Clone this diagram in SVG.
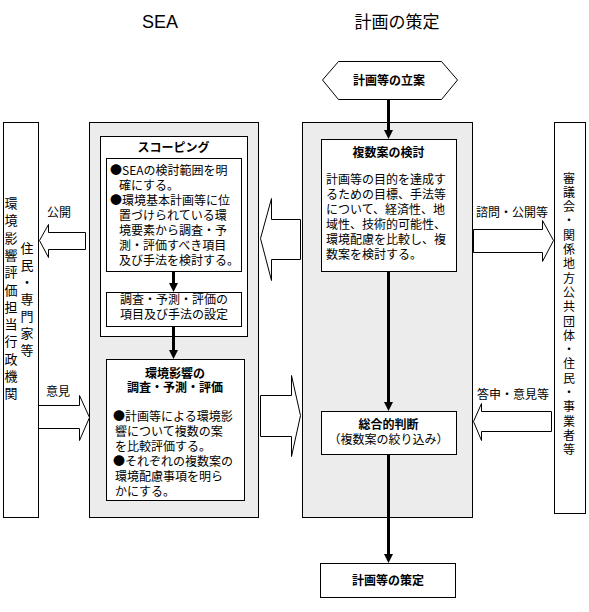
<svg xmlns="http://www.w3.org/2000/svg" width="589" height="612" viewBox="0 0 589 612">
<style>
  .t{font-family:"Noto Sans CJK JP","Liberation Sans",sans-serif;font-size:12px;fill:#000}
  .b{font-weight:bold}
  .m{text-anchor:middle}
  .v{font-family:"Noto Sans CJK JP","Liberation Sans",sans-serif;font-size:13px;fill:#000;text-anchor:middle}
  .vs{font-size:12px}
  .box{fill:#fff;stroke:#000;stroke-width:1}
  .grey{fill:#ececec;stroke:#000;stroke-width:1}
  .blk{fill:#fff;stroke:#000;stroke-width:1;stroke-linejoin:miter}
  .ln{stroke:#000;stroke-width:3;fill:none}
  .hd{fill:#000}
</style>
<rect width="589" height="612" fill="#fff"/>

<text x="160" y="28" font-family="Liberation Sans,Arial,sans-serif" font-size="18" text-anchor="middle">SEA</text>
<text x="397" y="28" class="t m" style="font-size:17px">計画の策定</text>

<g id="grey-sea"><rect class="grey" x="89.5" y="122.5" width="169" height="395"/></g>
<g id="grey-plan"><rect class="grey" x="302.5" y="122.5" width="170" height="395"/></g>

<g id="connectors">
  <path class="blk" d="M85.5,232.5 H48.5 V224.5 L39.5,240.5 L48.5,257.5 V249.5 H85.5 Z"/>
  <path class="blk" d="M38.5,405.5 H79.5 V395.5 L89.5,417.5 L79.5,440.5 V428.5 H38.5 Z"/>
  <path class="blk" d="M300.5,219.5 H271.5 V198.5 L260.5,238.5 L271.5,280.5 V259.5 H300.5 Z"/>
  <path class="blk" d="M260.5,395.5 H291.5 V375.5 L300.5,415.5 L291.5,456.5 V436.5 H260.5 Z"/>
  <path class="blk" d="M473.5,229.5 H542.5 V220.5 L553.5,240.5 L542.5,261.5 V252.5 H473.5 Z"/>
  <path class="blk" d="M551.5,411.5 H481.5 V403.5 L473.5,421.5 L481.5,440.5 V431.5 H551.5 Z"/>
  <line class="ln" x1="388.5" y1="99" x2="388.5" y2="131"/>
  <polygon class="hd" points="384,130 393,130 388.5,139"/>
  <line class="ln" x1="388.5" y1="271" x2="388.5" y2="403"/>
  <polygon class="hd" points="384,402 393,402 388.5,411"/>
  <line class="ln" x1="388.5" y1="454" x2="388.5" y2="555"/>
  <polygon class="hd" points="384,554 393,554 388.5,563"/>
</g>

<g id="left-box">
  <rect class="box" x="3.5" y="122.5" width="35" height="395"/>
  <text class="v"><tspan x="11" y="208">環</tspan><tspan x="11" y="225.3">境</tspan><tspan x="11" y="242.6">影</tspan><tspan x="11" y="259.9">響</tspan><tspan x="11" y="277.2">評</tspan><tspan x="11" y="294.5">価</tspan><tspan x="11" y="311.8">担</tspan><tspan x="11" y="329.1">当</tspan><tspan x="11" y="346.4">行</tspan><tspan x="11" y="363.7">政</tspan><tspan x="11" y="381">機</tspan><tspan x="11" y="398.3">関</tspan></text>
  <text class="v"><tspan x="27" y="253">住</tspan><tspan x="27" y="270">民</tspan><tspan x="27" y="287">・</tspan><tspan x="27" y="304">専</tspan><tspan x="27" y="321">門</tspan><tspan x="27" y="338">家</tspan><tspan x="27" y="355">等</tspan></text>
</g>

<g id="right-box">
  <rect class="box" x="554.5" y="122.5" width="31" height="391"/>
  <text class="v vs"><tspan x="569" y="182.5">審</tspan><tspan x="569" y="196.8">議</tspan><tspan x="569" y="211.1">会</tspan><tspan x="569" y="225.4">・</tspan><tspan x="569" y="239.7">関</tspan><tspan x="569" y="254">係</tspan><tspan x="569" y="268.3">地</tspan><tspan x="569" y="282.6">方</tspan><tspan x="569" y="296.9">公</tspan><tspan x="569" y="311.2">共</tspan><tspan x="569" y="325.5">団</tspan><tspan x="569" y="339.8">体</tspan><tspan x="569" y="354.1">・</tspan><tspan x="569" y="368.4">住</tspan><tspan x="569" y="382.7">民</tspan><tspan x="569" y="397">・</tspan><tspan x="569" y="411.3">事</tspan><tspan x="569" y="425.6">業</tspan><tspan x="569" y="439.9">者</tspan><tspan x="569" y="454.2">等</tspan></text>
</g>

<g id="labels">
  <text class="t m" x="59" y="217">公開</text>
  <text class="t m" x="58" y="396">意見</text>
  <text class="t m" x="512" y="217">諮問・公開等</text>
  <text class="t m" x="513" y="399">答申・意見等</text>
</g>

<g id="hex-start">
  <polygon class="box" points="322.5,80 338.5,61.5 441.5,61.5 457.5,80 441.5,99.5 338.5,99.5"/>
  <text class="t b m" x="389" y="84.5">計画等の立案</text>
</g>

<g id="scoping">
  <rect class="box" x="100.5" y="136.5" width="147" height="200"/>
  <text class="t b m" x="173.5" y="151.5">スコーピング</text>
</g>
<g id="scoping-text">
  <rect class="box" x="106.5" y="158.5" width="135" height="113"/>
  <text class="t" x="110" y="174.5">●SEAの検討範囲を明</text>
  <text class="t" x="119" y="189.5">確にする。</text>
  <text class="t" x="110" y="204.5">●環境基本計画等に位</text>
  <text class="t" x="119" y="219.5">置づけられている環</text>
  <text class="t" x="119" y="234.5">境要素から調査・予</text>
  <text class="t" x="119" y="249.5">測・評価すべき項目</text>
  <text class="t" x="119" y="264.5">及び手法を検討する。</text>
</g>
<g id="scoping-connectors">
  <line class="ln" x1="173.5" y1="271" x2="173.5" y2="284"/>
  <polygon class="hd" points="169,283 178,283 173.5,292"/>
  <line class="ln" x1="173.5" y1="326" x2="173.5" y2="351"/>
  <polygon class="hd" points="169,350 178,350 173.5,359"/>
</g>
<g id="scoping-setting">
  <rect class="box" x="106.5" y="292.5" width="135" height="34"/>
  <text class="t m" x="174" y="303.5">調査・予測・評価の</text>
  <text class="t m" x="174" y="318.5">項目及び手法の設定</text>
</g>

<g id="impact">
  <rect class="box" x="106.5" y="359.5" width="138" height="141"/>
  <text class="t b m" x="175" y="377.5">環境影響の</text>
  <text class="t b m" x="175" y="391.5">調査・予測・評価</text>
  <text class="t" x="113" y="420.5">●計画等による環境影</text>
  <text class="t" x="115" y="435.5">響について複数の案</text>
  <text class="t" x="115" y="450.5">を比較評価する。</text>
  <text class="t" x="113" y="465.5">●それぞれの複数案の</text>
  <text class="t" x="115" y="480.5">環境配慮事項を明ら</text>
  <text class="t" x="115" y="495.5">かにする。</text>
</g>

<g id="alternatives">
  <rect class="box" x="321.5" y="139.5" width="135" height="132"/>
  <text class="t b m" x="388.5" y="156.5">複数案の検討</text>
  <text class="t" x="326" y="183.5">計画等の目的を達成す</text>
  <text class="t" x="326" y="198.5">るための目標、手法等</text>
  <text class="t" x="326" y="213.5">について、経済性、地</text>
  <text class="t" x="326" y="228.5">域性、技術的可能性、</text>
  <text class="t" x="326" y="243.5">環境配慮を比較し、複</text>
  <text class="t" x="326" y="258.5">数案を検討する。</text>
</g>

<g id="judgement">
  <rect class="box" x="321.5" y="411.5" width="135" height="43"/>
  <text class="t b m" x="388.5" y="428.5">総合的判断</text>
  <text class="t m" x="388.5" y="443.5">（複数案の絞り込み）</text>
</g>

<g id="final">
  <rect class="box" x="320.5" y="563.5" width="135" height="34"/>
  <text class="t b m" x="388" y="584.5">計画等の策定</text>
</g>
</svg>
